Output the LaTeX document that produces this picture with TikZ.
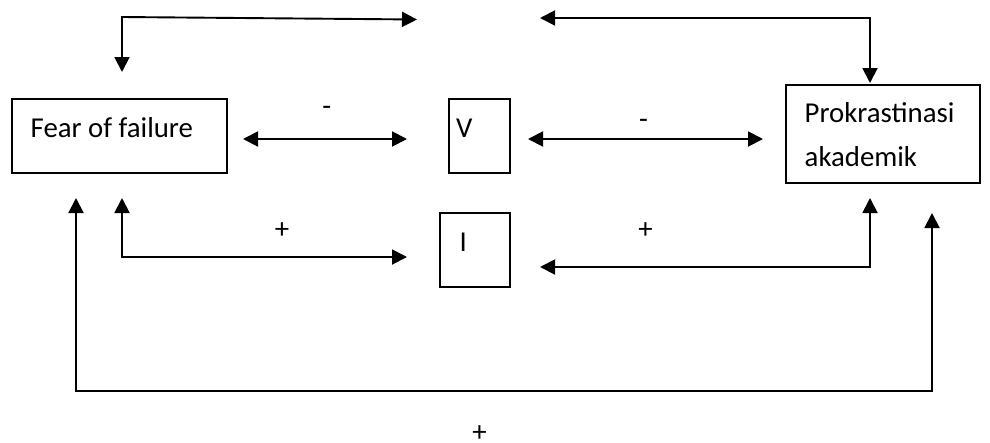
\documentclass[tikz,border=0pt]{standalone}
\usepackage{fontspec}
\setmainfont{Carlito}
\usetikzlibrary{arrows.meta}
\begin{document}
\begin{tikzpicture}[x=1pt,y=-1pt,
  box/.style={draw,line width=1.9pt,inner sep=0pt},
  txt/.style={inner sep=0pt,font=\fontsize{28.8}{44}\selectfont},
  sign/.style={inner sep=0pt,anchor=base,font=\fontsize{28.8}{44}\selectfont},
  link/.style={line width=1.9pt,{Triangle[length=15pt,width=15pt]}-{Triangle[length=15pt,width=15pt]}}]
\useasboundingbox (0,0) rectangle (990,442);

% boxes
\node[box,minimum width=215pt,minimum height=74pt] (fear) at (119.5,136) {};
\node[box,minimum width=61pt,minimum height=74pt] (vbox) at (479.5,136) {};
\node[box,minimum width=70pt,minimum height=74pt] (ibox) at (475,250) {};
\node[box,minimum width=194pt,minimum height=98pt] (prok) at (883,134) {};

% box texts
\node[txt,anchor=base west] (feartext) at (30.5,137) {Fear of failure};
\node[txt,anchor=base west] (vtext) at (456,137) {V};
\node[txt,anchor=base west] (itext) at (459.5,251) {I};
\node[txt,anchor=base west] (proktext) at (804.5,122) {Prokrastinasi};
\node[txt,anchor=base west] (akadtext) at (804.5,166) {akademik};

% free arrow ends
\coordinate (tl1) at (122,72);
\coordinate (tl2) at (417,19.5);
\coordinate (tr1) at (540,18);
\coordinate (tr2) at (870,83);
\coordinate (ml1) at (243,139);
\coordinate (ml2) at (407,139);
\coordinate (mr1) at (528,139);
\coordinate (mr2) at (763,139);
\coordinate (ll1) at (122,198);
\coordinate (ll2) at (407,257);
\coordinate (lr1) at (870,198);
\coordinate (lr2) at (540,267);
\coordinate (bl1) at (76,198);
\coordinate (br1) at (932,213);

% connectors
\draw[link] (tl1) -- (122,17) -- (tl2);
\draw[link] (tr1) -- (870,18) -- (tr2);
\draw[link] (ml1) -- (ml2);
\draw[link] (mr1) -- (mr2);
\draw[link] (ll1) -- (122,257) -- (ll2);
\draw[link] (lr1) -- (870,267) -- (lr2);
\draw[link] (bl1) -- (76,391) -- (932,391) -- (br1);

% signs
\node[sign] (m1) at (326.7,115) {-};
\node[sign] (m2) at (643.5,128) {-};
\node[sign] (p1) at (282,238.5) {+};
\node[sign] (p2) at (645.5,238.5) {+};
\node[sign] (p3) at (479.5,441) {+};
\end{tikzpicture}
\end{document}
